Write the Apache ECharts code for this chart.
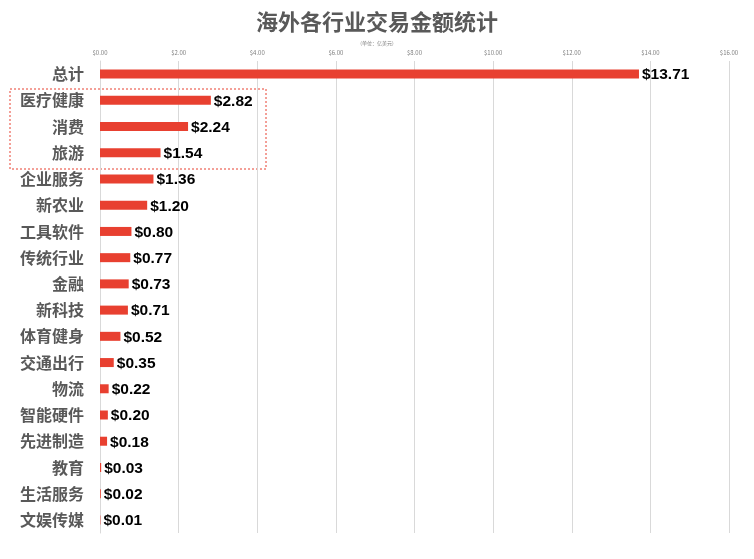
<!DOCTYPE html>
<html>
<head>
<meta charset="utf-8">
<script src="https://cdn.jsdelivr.net/npm/echarts@6/dist/echarts.min.js"></script>
<style>
  html, body { margin: 0; padding: 0; background: #fff; }
  #chart { width: 754px; height: 559px; }
</style>
</head>
<body>
<div id="chart"></div>
<script>
// 行业分类（从上到下）
const categories = ['总计', '医疗健康', '消费', '旅游', '企业服务', '新农业', '工具软件', '传统行业',
  '金融', '新科技', '体育健身', '交通出行', '物流', '智能硬件', '先进制造', '教育', '生活服务', '文娱传媒']
// 交易金额（亿美元）
const amounts = [13.71, 2.82, 2.24, 1.54, 1.36, 1.20, 0.80, 0.77, 0.73, 0.71, 0.52, 0.35, 0.22, 0.20, 0.18, 0.03, 0.02, 0.01]
const xTicks = { min: 0, max: 16, interval: 2 }

const chart = echarts.init(document.getElementById('chart'))
const font = '"Noto Sans CJK SC", "Noto Sans", sans-serif'

const option = {
  animation: false,
  title: {
    text: '海外各行业交易金额统计',
    subtext: '(单位：亿美元)',
    left: 'center',
    top: 6,
    itemGap: 8,
    textStyle: { fontFamily: font, fontSize: 22, fontWeight: 'bold', color: '#595959' },
    subtextStyle: { fontFamily: font, fontSize: 5, color: '#7f7f7f' }
  },
  grid: { left: 100, right: 25, top: 61, bottom: 26, containLabel: false },
  xAxis: {
    type: 'value',
    position: 'top',
    min: xTicks.min,
    max: xTicks.max,
    interval: xTicks.interval,
    axisLine: { show: false },
    axisTick: { show: false },
    axisLabel: {
      fontSize: 6, color: '#7f7f7f', fontFamily: font, margin: 5,
      formatter: v => '$' + v.toFixed(2)
    },
    splitLine: { lineStyle: { color: '#d9d9d9', width: 1 } }
  },
  yAxis: {
    type: 'category',
    inverse: true,
    data: categories,
    axisLine: { show: true, lineStyle: { color: '#d9d9d9' } },
    axisTick: { show: false },
    axisLabel: { fontSize: 16, fontWeight: 'bold', color: '#595959', fontFamily: font, margin: 16 }
  },
  series: [{
    type: 'bar',
    data: amounts,
    barWidth: 9,
    itemStyle: { color: '#e84030' },
    label: {
      show: true,
      position: 'right',
      distance: 3,
      offset: [0, 1],
      fontSize: 15.5,
      fontWeight: 'bold',
      color: '#000',
      fontFamily: '"Liberation Sans", "DejaVu Sans", sans-serif',
      formatter: p => '$' + p.value.toFixed(2)
    }
  }],
  graphic: [{
    type: 'rect',
    shape: { x: 10, y: 89, width: 256, height: 80 },
    style: { fill: 'none', stroke: '#e84030', lineWidth: 1, lineDash: [2, 2] }
  }]
}
chart.setOption(option)
</script>
</body>
</html>
